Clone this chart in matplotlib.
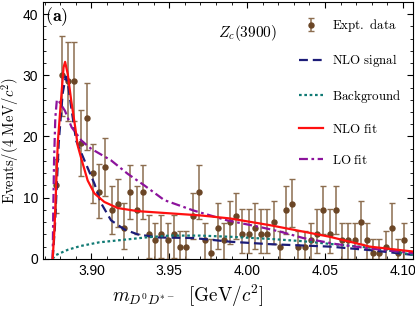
import matplotlib
matplotlib.use('Agg')
import matplotlib.pyplot as plt
import numpy as np

plt.rcParams['mathtext.fontset'] = 'cm'
plt.rcParams['font.family'] = ['Liberation Sans', 'DejaVu Sans']

# experimental points (4 MeV bins)
mass = [3.877 + 0.004 * k for k in range(57)]
events = [12, 30, 29, 29, 19, 23, 14, 11, 15, 8,
          9, 5, 11, 8, 11, 4, 3, 4, 3, 4,
          2, 2, 7, 11, 3, 1, 5, 3, 6, 7,
          4, 4, 5, 4, 4, 6, 2, 8, 9, 2,
          2, 3, 4, 8, 4, 8, 3, 3, 3, 6,
          3, 1, 1, 2, 5, 1, 3]
err_lo = [4.5, 6.7, 6.4, 6.4, 5.4, 5.2, 4.8, 4.4, 4.8, 4.0,
          3.8, 3.4, 4.5, 4.0, 4.5, 3.8, 3.0, 3.8, 3.0, 3.8,
          2.0, 2.0, 3.7, 4.5, 3.0, 1.0, 3.4, 3.0, 3.6, 3.7,
          3.1, 3.1, 3.4, 3.1, 3.1, 3.6, 2.0, 4.0, 3.8, 2.0,
          2.0, 3.0, 3.1, 4.0, 3.1, 4.0, 3.0, 3.0, 3.0, 3.6,
          3.0, 1.0, 1.0, 2.0, 3.4, 1.0, 3.0]
err_hi = [4.4, 6.4, 6.5, 6.5, 5.4, 5.8, 4.8, 4.5, 4.8, 3.9,
          4.0, 4.2, 4.4, 3.9, 4.4, 3.2, 2.9, 3.2, 2.9, 3.2,
          2.6, 2.6, 3.7, 4.4, 2.9, 2.3, 4.2, 2.9, 3.4, 3.7,
          4.2, 4.2, 4.2, 4.2, 4.2, 3.4, 2.6, 3.9, 4.0, 2.6,
          2.6, 2.9, 4.2, 3.9, 4.2, 3.9, 2.9, 2.9, 2.9, 3.4,
          2.9, 2.3, 2.3, 2.6, 4.2, 2.3, 2.9]

# curves
nlo_fit_m = [3.8751, 3.8763, 3.8784, 3.8806, 3.8821, 3.8831, 3.8848, 3.8870,
             3.8896, 3.8912, 3.8938, 3.8976, 3.9019, 3.9083, 3.9169, 3.9297,
             3.9468, 3.9700, 3.9891, 4.0147, 4.0361, 4.0532, 4.0788, 4.0960, 4.1064]
nlo_fit_y = [0.0, 5.0, 19.0, 26.4, 31.3, 32.2, 30.2, 25.9,
             21.5, 18.5, 16.1, 12.8, 10.7, 9.3, 8.3, 7.8,
             7.5, 7.1, 6.6, 5.5, 4.45, 3.6, 2.0, 1.5, 1.2]

nlo_sig_m = [3.8751, 3.8765, 3.8790, 3.8815, 3.8835, 3.8850, 3.8870, 3.8902,
             3.8955, 3.9019, 3.9062, 3.9126, 3.9212, 3.9297, 3.9425, 3.9656,
             3.9891, 4.0147, 4.0532, 4.0800, 4.1064]
nlo_sig_y = [0.0, 5.0, 19.0, 27.0, 29.8, 28.5, 24.8, 19.3,
             16.1, 12.3, 9.1, 6.3, 4.8, 4.0, 3.5, 3.4,
             2.8, 2.4, 2.0, 1.4, 0.65]

bkg_m = [3.8751, 3.8770, 3.8850, 3.8930, 3.9050, 3.9200, 3.9350, 3.9500,
         3.9700, 3.9900, 4.0150, 4.0350, 4.0550, 4.0800, 4.0950, 4.1064]
bkg_y = [0.0, 0.6, 1.5, 2.1, 2.7, 3.1, 3.5, 3.8,
         3.8, 3.6, 3.25, 2.9, 2.4, 1.8, 1.2, 0.65]

lo_fit_m = [3.8751, 3.8755, 3.8760, 3.8768, 3.8778, 3.8790, 3.8830, 3.8873,
            3.8937, 3.8998, 3.9126, 3.9233, 3.9340, 3.9468, 3.9656, 3.9870,
            4.0083, 4.0212, 4.0361, 4.0575, 4.0788, 4.1066]
lo_fit_y = [0.0, 8.0, 16.0, 23.0, 26.0, 25.8, 24.2, 21.5,
            19.3, 18.0, 16.1, 13.9, 12.0, 9.6, 7.9, 6.3,
            5.2, 4.45, 3.4, 2.4, 1.7, 0.93]

fig = plt.figure(figsize=(4.15, 3.13), dpi=100)
ax = fig.add_axes([0.104, 0.173, 0.891, 0.821])

data = ax.errorbar(mass, events, yerr=[err_lo, err_hi], fmt='o', color='#6b4626',
                   ecolor='#8c6d4f', elinewidth=1.1, capsize=2.5, capthick=1.0,
                   markersize=3.6, zorder=2)
sig, = ax.plot(nlo_sig_m, nlo_sig_y, color='#1c1c78', lw=1.6, ls=(0, (4, 2.2)), zorder=3)
bkg, = ax.plot(bkg_m, bkg_y, color='#107a74', lw=1.6, ls=(0, (1.2, 1.2)), zorder=3)
fit, = ax.plot(nlo_fit_m, nlo_fit_y, color='#ff1010', lw=1.6, zorder=4)
lo, = ax.plot(lo_fit_m, lo_fit_y, color='#8c139c', lw=1.6,
              ls=(0, (4, 1.6, 1.2, 1.6)), zorder=3)

ax.set_xlim(3.869, 4.1065)
ax.set_ylim(0, 42)
ax.set_xticks([3.90, 3.95, 4.00, 4.05, 4.10])
ax.set_xticklabels(['3.90', '3.95', '4.00', '4.05', '4.10'])
ax.set_yticks([0, 10, 20, 30, 40])
ax.set_xticks(np.arange(3.87, 4.106, 0.01), minor=True)
ax.set_yticks(np.arange(0, 42, 2), minor=True)
ax.tick_params(which='both', direction='in', top=True, right=True, labelsize=10)
ax.tick_params(which='major', length=4)
ax.tick_params(which='minor', length=2)

ax.set_xlabel(r'$m_{D^0D^{*-}}\ \ [\mathrm{GeV}/c^2]$', fontsize=13.8)
ax.xaxis.set_label_coords(0.392, -0.092)
ax.set_ylabel(r'$\mathrm{Events}/(4\ \mathrm{MeV}/c^2)$', fontsize=10.6)
ax.yaxis.set_label_coords(-0.06, 0.46)

ax.text(0.005, 0.985, r'$\mathbf{(a)}$', transform=ax.transAxes, fontsize=13,
        va='top', ha='left')
ax.text(0.472, 0.88, r'$Z_c(3900)$', transform=ax.transAxes, fontsize=11,
        va='center', ha='left')

ax.legend([data, sig, bkg, fit, lo],
          [r'$\mathrm{Expt.\ data}$', r'$\mathrm{NLO\ signal}$',
           r'$\mathrm{Background}$', r'$\mathrm{NLO\ fit}$', r'$\mathrm{LO\ fit}$'],
          loc='upper right', bbox_to_anchor=(1.0, 0.985), frameon=False,
          fontsize=9.3, handlelength=1.9, labelspacing=1.4,
          handletextpad=0.7)

fig.savefig('out.png', dpi=100)
